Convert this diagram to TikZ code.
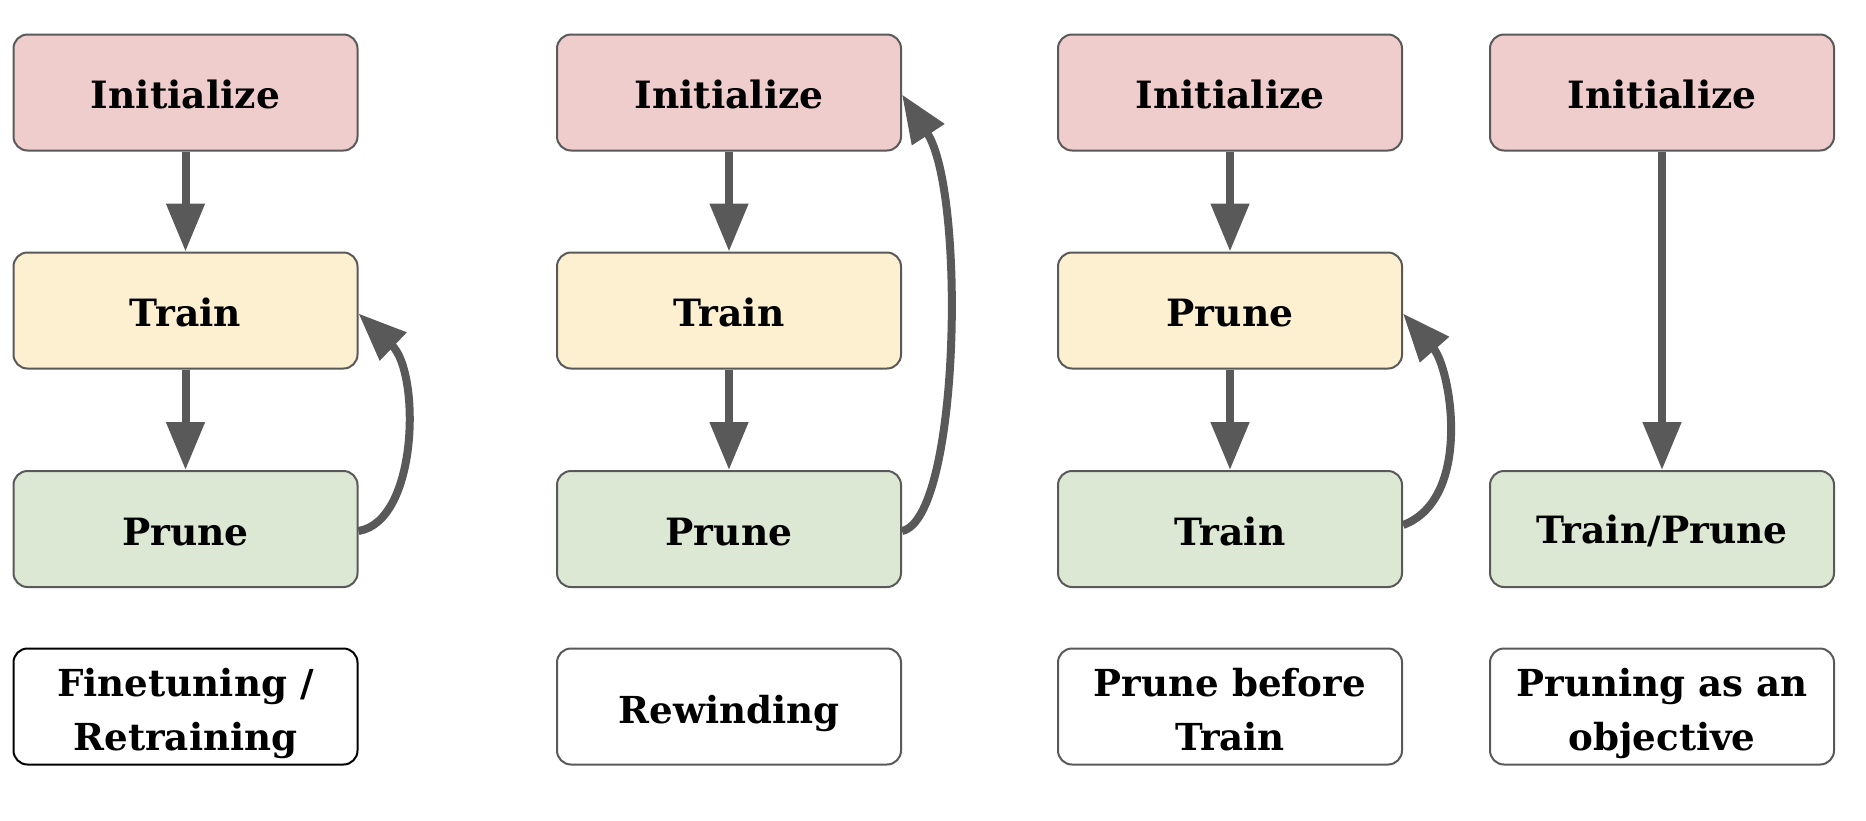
\documentclass[tikz,border=0pt]{standalone}
\usepackage{fontspec}
\setmainfont{DejaVu Serif}
\usetikzlibrary{arrows.meta}
\definecolor{initc}{HTML}{EECDCC}
\definecolor{trainc}{HTML}{FDF0D0}
\definecolor{prunec}{HTML}{DDE8D4}
\definecolor{edgec}{HTML}{595959}
\definecolor{arrc}{HTML}{595959}
\tikzset{
  box/.style={draw=edgec, line width=1pt, rounded corners=7pt, minimum width=172pt, minimum height=58pt, inner sep=0pt, align=center, font=\fontsize{18.8}{27}\selectfont\bfseries, text height=16.4pt},
  initbox/.style={box, fill=initc},
  trainbox/.style={box, fill=trainc},
  prunebox/.style={box, fill=prunec},
  labelbox/.style={box, fill=white, font=\fontsize{18.6}{27}\selectfont\bfseries, text height=21pt},
  twoline/.style={text height=48pt, text depth=4.5pt},
  flow/.style={draw=arrc, line width=4pt, -{Triangle[width=18.5pt,length=24pt]}},
}
\begin{document}
\begin{tikzpicture}[x=0.5pt,y=-0.5pt]
\useasboundingbox (0,0) rectangle (1866,820);
% column 1
\node[initbox] (i1) at (185.5,92.5) {Initialize};
\node[trainbox] (t1) at (185.5,310.5) {Train};
\node[prunebox] (p1) at (185.5,529) {Prune};
\node[labelbox, twoline, draw=black] (l1) at (185.5,706.5) {Finetuning /\\Retraining};
\draw[flow] (i1) -- (t1);
\draw[flow] (t1) -- (p1);
\draw[flow] ([yshift=-1pt]p1.east) .. controls ([shift={(60,-8)}]p1.east) and ([shift={(62,62)}]t1.east) .. ([yshift=-1.5pt]t1.east);
% column 2
\node[initbox] (i2) at (729,92.5) {Initialize};
\node[trainbox] (t2) at (729,310.5) {Train};
\node[prunebox] (p2) at (729,529) {Prune};
\node[labelbox] (l2) at (729,706.5) {Rewinding};
\draw[flow] (i2) -- (t2);
\draw[flow] (t2) -- (p2);
\draw[flow] ([yshift=-1pt]p2.east) .. controls ([shift={(58,-10)}]p2.east) and ([shift={(64,100)}]i2.east) .. ([yshift=-1pt]i2.east);
% column 3
\node[initbox] (i3) at (1230,92.5) {Initialize};
\node[trainbox] (t3) at (1230,310.5) {Prune};
\node[prunebox] (p3) at (1230,529) {Train};
\node[labelbox, twoline] (l3) at (1230,706.5) {Prune before\\Train};
\draw[flow] (i3) -- (t3);
\draw[flow] (t3) -- (p3);
\draw[flow] ([yshift=2pt]p3.east) .. controls ([shift={(70,-30)}]p3.east) and ([shift={(48,58)}]t3.east) .. ([yshift=-1.5pt]t3.east);
% column 4
\node[initbox] (i4) at (1662,92.5) {Initialize};
\node[prunebox] (p4) at (1662,529) {Train/Prune};
\node[labelbox, twoline] (l4) at (1662,706.5) {Pruning as an\\objective};
\draw[flow] (i4) -- (p4);
\end{tikzpicture}
\end{document}
